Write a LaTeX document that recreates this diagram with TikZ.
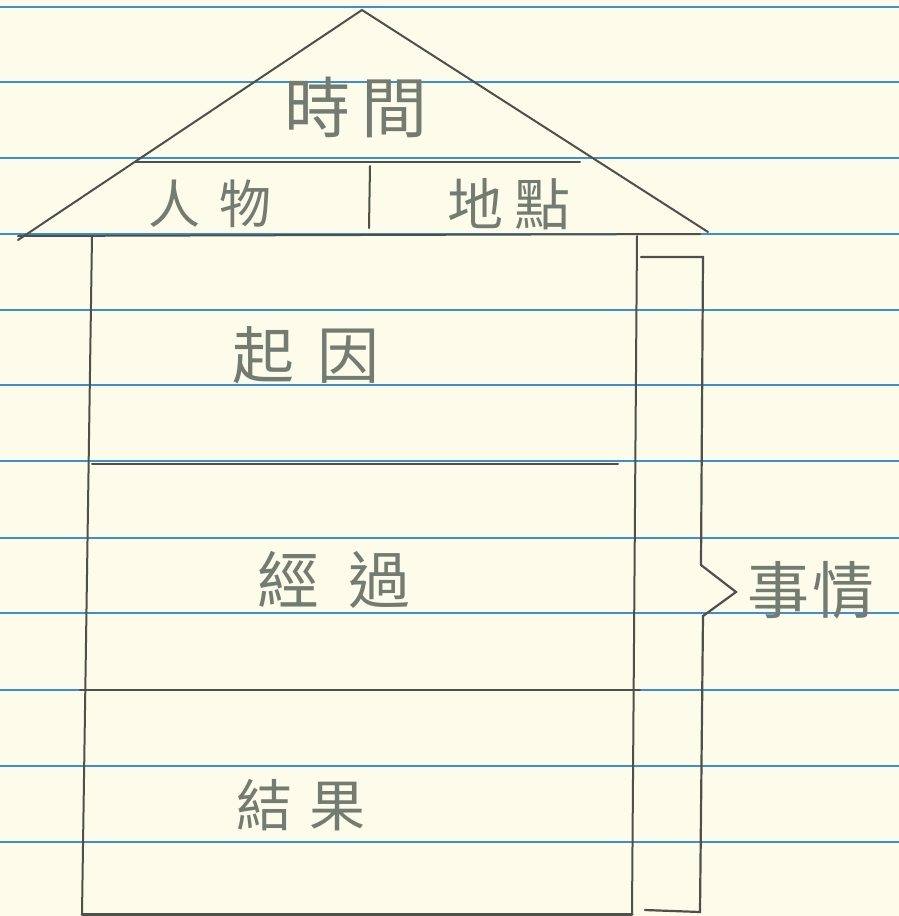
\documentclass[tikz,border=0pt]{standalone}
\usepackage{fontspec}
\newfontfamily\cjk{Noto Sans CJK TC}
\definecolor{paper}{HTML}{FDFBEA}
\definecolor{rule}{HTML}{3D8ED2}
\definecolor{pencil}{HTML}{4E514A}
\definecolor{graytext}{HTML}{737C71}
\tikzset{
  wall/.style={draw=pencil, line width=2pt, line cap=round},
  rulingline/.style={draw=rule, line width=1.4pt},
  label/.style={text=graytext, font=\cjk\fontsize{#1}{#1}\selectfont, inner sep=0pt},
}
\begin{document}
\begin{tikzpicture}[x=1pt,y=-1pt]
\fill[paper] (0,0) rectangle (899,916);
\useasboundingbox (0,0) rectangle (899,916);
% ruled paper lines
\foreach \y in {7,82,158,234,310,385,461,538,613,690,766,842}
  \draw[rulingline] (0,\y) -- (899,\y);
% house
\coordinate (apex) at (362,10);
\coordinate (roofL) at (18,240);
\coordinate (roofR) at (708,232);
\coordinate (baseL) at (18,236);
\coordinate (baseR) at (700,234);
\draw[wall] (roofL) -- (apex) -- (roofR);
\draw[wall] (baseL) -- (baseR);
\coordinate (subL) at (135,162);
\coordinate (subR) at (580,162);
\draw[wall] (subL) -- (subR);
\coordinate (divT) at (370,166);
\coordinate (divB) at (369,228);
\draw[wall] (divT) -- (divB);
\coordinate (wLT) at (92,236);
\coordinate (wLB) at (82,914);
\coordinate (wRT) at (637,236);
\coordinate (wRB) at (632,914);
\draw[wall] (wLT) -- (wLB);
\draw[wall] (wRT) -- (wRB);
\draw[wall, line width=3pt] (wLB) -- (wRB);
\coordinate (f1L) at (92,464);
\coordinate (f1R) at (618,464);
\draw[wall] (f1L) -- (f1R);
\coordinate (f2L) at (80,690);
\coordinate (f2R) at (640,690);
\draw[wall] (f2L) -- (f2R);
% bracket
\coordinate (bT1) at (641,257);
\coordinate (bT2) at (703,257);
\coordinate (bM1) at (701,565);
\coordinate (bTip) at (736,592);
\coordinate (bM2) at (703,616);
\coordinate (bB1) at (700,912);
\coordinate (bB2) at (645,910);
\draw[wall, line width=2.2pt] (bT1) -- (bT2) -- (bM1) -- (bTip) -- (bM2) -- (bB1) -- (bB2);
% labels
\node[label=66] (time) at (356,107) {時\hspace{12pt}間};
\node[label=52] (person) at (210,204) {人\hspace{20pt}物};
\node[label=56] (place) at (509,204) {地\hspace{12pt}點};
\node[label=62] (cause) at (306,355) {起\hspace{24pt}因};
\node[label=62] (process) at (334,580) {經\hspace{30pt}過};
\node[label=56] (result) at (301,805) {結\hspace{18pt}果};
\node[label=62] (event) at (811,590) {事\hspace{4pt}情};
\end{tikzpicture}
\end{document}
